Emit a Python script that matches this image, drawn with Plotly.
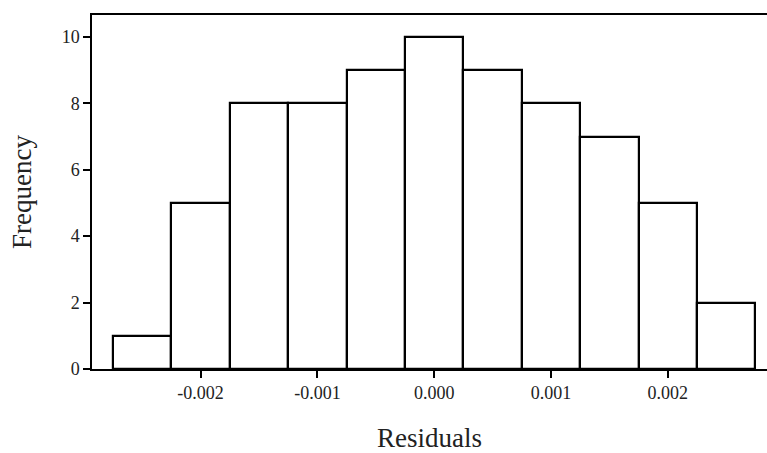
import plotly.graph_objects as go

# Histogram of residuals: bin centres (width 0.0005) and their counts
bin_centers = [-0.0025, -0.002, -0.0015, -0.001, -0.0005, 0.0, 0.0005, 0.001, 0.0015, 0.002, 0.0025]
frequencies = [1, 5, 8, 8, 9, 10, 9, 8, 7, 5, 2]
bin_width = 0.0005

x_tick_vals = [-0.002, -0.001, 0.0, 0.001, 0.002]
x_tick_text = ["-0.002", "-0.001", "0.000", "0.001", "0.002"]
y_tick_vals = [0, 2, 4, 6, 8, 10]

fig = go.Figure(
    go.Bar(
        x=bin_centers,
        y=frequencies,
        width=[bin_width] * len(bin_centers),
        marker=dict(color="white", line=dict(color="black", width=2.2)),
        showlegend=False,
    )
)

font_family = "Liberation Serif, Times New Roman, serif"

fig.update_layout(
    width=767,
    height=453,
    margin=dict(l=92, r=0, t=15, b=84),
    paper_bgcolor="white",
    plot_bgcolor="white",
    font=dict(family=font_family, color="#222222"),
    bargap=0,
)

fig.update_xaxes(
    range=[-0.00293, 0.00285],
    tickvals=x_tick_vals,
    ticktext=x_tick_text,
    ticks="outside",
    ticklen=7,
    tickwidth=1.5,
    tickcolor="black",
    tickfont=dict(size=18, family=font_family),
    showline=True,
    linecolor="black",
    linewidth=1.5,
    mirror=True,
    showgrid=False,
    zeroline=False,
    title=dict(text="Residuals", font=dict(size=27, family=font_family), standoff=26),
)

fig.update_yaxes(
    range=[0, 10.66],
    tickvals=y_tick_vals,
    ticks="outside",
    ticklen=7,
    tickwidth=1.5,
    tickcolor="black",
    tickfont=dict(size=18, family=font_family),
    showline=True,
    linecolor="black",
    linewidth=1.5,
    showgrid=False,
    zeroline=False,
    title=dict(text="Frequency", font=dict(size=27, family=font_family), standoff=22),
)

fig.write_html("out.html")
